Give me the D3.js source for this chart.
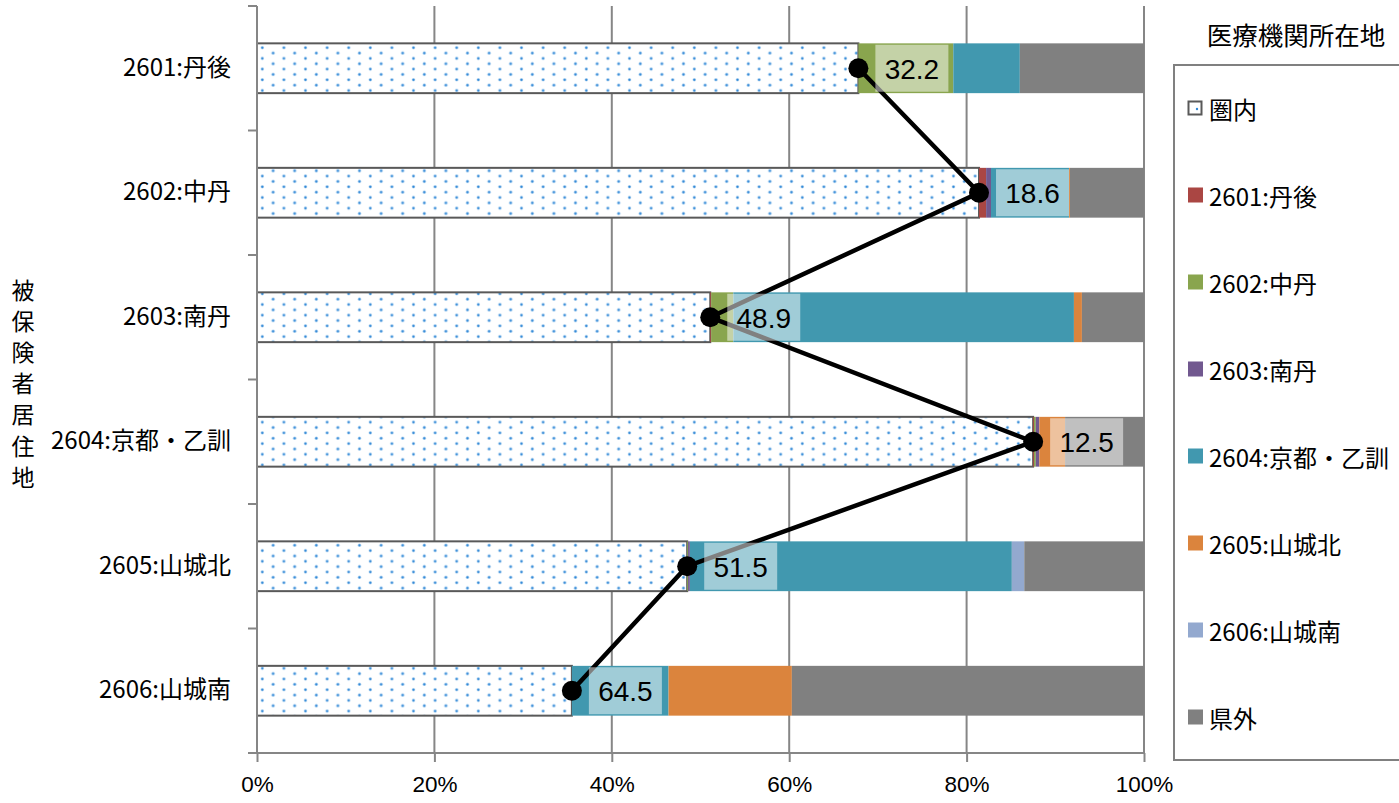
<!DOCTYPE html>
<html>
<head>
<meta charset="utf-8">
<script src="https://cdn.jsdelivr.net/npm/d3@7"></script>
<style>
  html, body { margin: 0; padding: 0; background: #fff; }
  svg { display: block; }
</style>
</head>
<body>
<svg id="chart" width="1399" height="803"></svg>
<script>
// ---- data ----
const categories = ["2601:丹後", "2602:中丹", "2603:南丹", "2604:京都・乙訓", "2605:山城北", "2606:山城南"];
const seriesNames = ["圏内", "2601:丹後", "2602:中丹", "2603:南丹", "2604:京都・乙訓", "2605:山城北", "2606:山城南", "県外"];
const inArea   = [67.8, 81.4, 51.1, 87.5, 48.5, 35.5];
const s2601    = [0,    0.8,  0.1,  0.1,  0,    0];
const s2602    = [10.7, 0,    2.5,  0.2,  0.1,  0];
const s2603    = [0,    0.55, 0,    0.4,  0.2,  0];
const s2604    = [7.5,  8.8,  38.4, 0,    36.3, 10.9];
const s2605    = [0,    0.1,  0.9,  2.9,  0,    13.9];
const s2606    = [0,    0,    0,    0,    1.4,  0];
const outside  = [14.0, 8.35, 7.0,  8.9,  13.5, 39.7];
const outflow  = [32.2, 18.6, 48.9, 12.5, 51.5, 64.5];
const tickValues = [0, 20, 40, 60, 80, 100];
const axisTitle = "被保険者居住地";
const legendTitle = "医療機関所在地";

const colors = ["url(#dots)", "#AA4643", "#89A54E", "#71588F", "#4198AF", "#DB843D", "#93A9CF", "#808080"];
const seriesArrays = [inArea, s2601, s2602, s2603, s2604, s2605, s2606, outside];

const table = categories.map((c, i) => {
  const row = { cat: c };
  seriesNames.forEach((s, j) => row[s] = seriesArrays[j][i]);
  return row;
});

const svg = d3.select("#chart");
const FONT = "'Liberation Sans', 'Noto Sans CJK JP', sans-serif";
const JFONT = "'Noto Sans CJK JP', sans-serif";

// pattern
const defs = svg.append("defs");
const pat = defs.append("pattern").attr("id", "dots")
  .attr("patternUnits", "userSpaceOnUse")
  .attr("x", 257).attr("y", 44)
  .attr("width", 21.6).attr("height", 10.7);
pat.append("rect").attr("width", 21.6).attr("height", 10.7).attr("fill", "#fff");
[[5.3, 3.7], [16.1, 9.05]].forEach(([cx, cy]) => {
  pat.append("circle").attr("cx", cx).attr("cy", cy).attr("r", 1.7).attr("fill", "#a9d0f0");
  pat.append("circle").attr("cx", cx).attr("cy", cy).attr("r", 1.1).attr("fill", "#2f86d6");
});

const x = d3.scaleLinear().domain([0, 100]).range([257, 1144]);
const y = d3.scaleBand().domain(categories).range([6, 753]).paddingInner(0.6).paddingOuter(0.3);

// gridlines
const gridColor = "#868686";
svg.append("g").selectAll("line").data(tickValues.filter(t => t > 0)).join("line")
  .attr("x1", d => x(d)).attr("x2", d => x(d))
  .attr("y1", 6).attr("y2", 753)
  .attr("stroke", gridColor).attr("stroke-width", 2);

// stacked bars
const stack = d3.stack().keys(seriesNames);
const layers = stack(table);
const barG = svg.append("g");
layers.forEach((layer, k) => {
  barG.append("g").selectAll("rect").data(layer).join("rect")
    .attr("x", d => x(d[0]))
    .attr("width", d => Math.max(0, x(d[1]) - x(d[0])))
    .attr("y", d => y(d.data.cat))
    .attr("height", y.bandwidth())
    .attr("fill", colors[k])
    .attr("stroke", k === 0 ? "#595959" : "none")
    .attr("stroke-width", k === 0 ? 2 : 0);
});

// axes
const yAxis = d3.axisLeft(y).tickSize(0).tickPadding(26);
const yAxisG = svg.append("g").attr("transform", "translate(257,0)").call(yAxis);
yAxisG.select(".domain").remove();
yAxisG.selectAll("text").attr("font-family", JFONT).attr("font-size", 24).attr("fill", "#000");
// left axis line + ticks at band boundaries
svg.append("line").attr("x1", 257).attr("x2", 257).attr("y1", 6).attr("y2", 753)
  .attr("stroke", gridColor).attr("stroke-width", 2);
const boundaries = categories.map(c => y(c) - y.step() * y.paddingInner() / 2);
boundaries.push(753);
svg.append("g").selectAll("line").data(boundaries).join("line")
  .attr("x1", 248).attr("x2", 257).attr("y1", d => d).attr("y2", d => d)
  .attr("stroke", gridColor).attr("stroke-width", 2);

const xAxis = d3.axisBottom(x).tickValues(tickValues).tickFormat(d => d + "%").tickSize(9).tickPadding(14);
const xAxisG = svg.append("g").attr("transform", "translate(0,753)").call(xAxis);
xAxisG.select(".domain").attr("d", "M248,0H" + x(100)).attr("stroke", gridColor).attr("stroke-width", 2);
xAxisG.selectAll(".tick line").attr("stroke", gridColor).attr("stroke-width", 2);
xAxisG.selectAll("text").attr("font-family", FONT).attr("font-size", 22.5).attr("fill", "#000");

// axis title (vertical stacked)
svg.append("g").selectAll("text").data(Array.from(axisTitle)).join("text")
  .attr("x", 23).attr("y", (d, i) => 289 + i * 31.1)
  .attr("text-anchor", "middle").attr("dominant-baseline", "central")
  .attr("font-family", JFONT).attr("font-size", 23).attr("fill", "#000")
  .text(d => d);

// line series
const cy = c => y(c) + y.bandwidth() / 2;
const line = d3.line().x(d => x(d[0])).y(d => cy(d[1]));
svg.append("path").datum(inArea.map((v, i) => [v, categories[i]]))
  .attr("d", line).attr("fill", "none").attr("stroke", "#000").attr("stroke-width", 4.5);

// data labels
const lblG = svg.append("g");
inArea.forEach((v, i) => {
  const bx = x(v) + 17;
  const by = cy(categories[i]);
  lblG.append("rect").attr("x", bx).attr("y", by - 23.5).attr("width", 73).attr("height", 47)
    .attr("fill", "#fff").attr("fill-opacity", 0.5);
  lblG.append("text").attr("x", bx + 36.5).attr("y", by + 1)
    .attr("text-anchor", "middle").attr("dominant-baseline", "central")
    .attr("font-family", FONT).attr("font-size", 28).attr("fill", "#000")
    .text(outflow[i].toFixed(1));
});

// dots
svg.append("g").selectAll("circle").data(inArea).join("circle")
  .attr("cx", d => x(d)).attr("cy", (d, i) => cy(categories[i])).attr("r", 10)
  .attr("fill", "#000");

// legend
svg.append("text").attr("x", 1296).attr("y", 33)
  .attr("text-anchor", "middle").attr("dominant-baseline", "central")
  .attr("font-family", JFONT).attr("font-size", 25.5).attr("fill", "#000")
  .text(legendTitle);
svg.append("rect").attr("x", 1174).attr("y", 65).attr("width", 260).attr("height", 695)
  .attr("fill", "#fff").attr("stroke", "#808080").attr("stroke-width", 2);
const lg = svg.append("g");
seriesNames.forEach((s, i) => {
  const ly = 108 + i * 87;
  if (i === 0) {
    lg.append("rect").attr("x", 1188.5).attr("y", ly - 6.5).attr("width", 13).attr("height", 13)
      .attr("fill", "#fff").attr("stroke", "#595959").attr("stroke-width", 2);
    lg.append("circle").attr("cx", 1197).attr("cy", ly + 1).attr("r", 1.2).attr("fill", "#2f86d6");
  } else {
    lg.append("rect").attr("x", 1188).attr("y", ly - 7.5).attr("width", 15).attr("height", 15)
      .attr("fill", colors[i]);
  }
  lg.append("text").attr("x", 1209).attr("y", ly)
    .attr("dominant-baseline", "central")
    .attr("font-family", JFONT).attr("font-size", 24).attr("fill", "#000")
    .text(s);
});
</script>
</body>
</html>
